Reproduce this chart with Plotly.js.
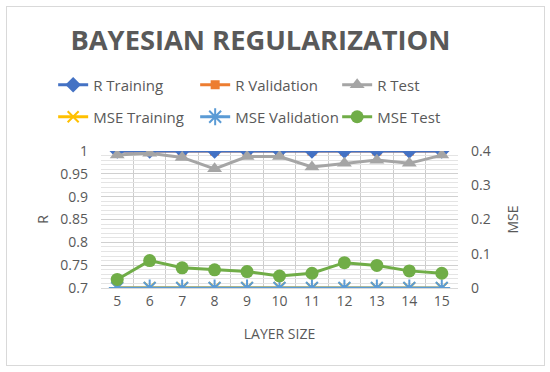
<!DOCTYPE html>
<html>
<head>
<meta charset="utf-8">
<script src="https://cdn.plot.ly/plotly-3.0.1.min.js"></script>
<style>
html,body{margin:0;padding:0;background:#fff;}
#wrap{position:relative;width:550px;height:372px;}
#chart{width:550px;height:372px;}
#frame{position:absolute;left:6px;top:6px;width:537px;height:358px;border:1px solid #d9d9d9;pointer-events:none;}
</style>
</head>
<body>
<div id="wrap"><div id="chart"></div><div id="frame"></div></div>
<script>
const layerSize = [5,6,7,8,9,10,11,12,13,14,15];
const rTraining   = [1,1,1,1,1,1,1,1,1,1,1];
const rValidation = [1,1,1,1,1,1,1,1,1,1,1];
const rTest       = [0.991,0.995,0.986,0.961,0.988,0.988,0.965,0.973,0.980,0.973,0.991];
const mseTraining   = [0.001,0.001,0.001,0.001,0.001,0.001,0,0,0,0,0];
const mseValidation = [0,0,0,0,0,0,0,0,0,0,0];
const mseTest       = [0.025,0.080,0.059,0.053,0.048,0.035,0.043,0.074,0.066,0.050,0.043];

const txt = '#595959';
const fam = 'Open Sans, sans-serif';
const font = {family:fam, size:14, color:txt};

function tr(name, y, color, symbol, size, axis, leg, rank){
  return {x: layerSize, y: y, name: name, type:'scatter', mode:'lines+markers', yaxis: axis, legend: leg, legendrank: rank,
    line:{color:color, width:3}, marker:{symbol:symbol, size:size, color:color, line:{color:color, width: symbol.indexOf('open')>=0?2:0}}};
}
const data = [
  tr('R Validation', rValidation, '#ED7D31', 'square', 9, 'y', 'legend', 2),
  tr('R Training', rTraining, '#4472C4', 'diamond', 12, 'y', 'legend', 1),
  tr('R Test', rTest, '#A5A5A5', 'triangle-up', 13, 'y', 'legend', 3),
  tr('MSE Training', mseTraining, '#FFC000', 'x-thin-open', 11, 'y2', 'legend2', 4),
  tr('MSE Validation', mseValidation, '#5B9BD5', 'asterisk-open', 14, 'y2', 'legend2', 5),
  tr('MSE Test', mseTest, '#70AD47', 'circle', 13, 'y2', 'legend2', 6)
];

const legBase = {orientation:'h', x:-0.134, xanchor:'left', yanchor:'middle', traceorder:'normal',
  entrywidth:97, entrywidthmode:'pixels', font:{family:fam, size:15, color:txt}, bgcolor:'rgba(0,0,0,0)'};

const layout = {
  width:550, height:372,
  margin:{l:101, r:92, t:151, b:84},
  paper_bgcolor:'#fff', plot_bgcolor:'#fff',
  font: font,
  title:{text:'BAYESIAN REGULARIZATION', font:{family:fam, size:27.3, color:txt, weight:'bold'},
    x:260.5/550, xref:'container', xanchor:'center', y:1-40/372, yanchor:'middle', yref:'container'},
  showlegend:true,
  legend: Object.assign({}, legBase, {y:(288-85)/137}),
  legend2: Object.assign({}, legBase, {y:(288-117)/137}),
  xaxis:{type:'linear', range:[4.5,15.5], tickvals:layerSize, showgrid:false,
    minor:{tick0:4.5, dtick:1, showgrid:true, gridcolor:'#cccccc', gridwidth:1, ticks:''},
    ticks:'', showline:true, linecolor:'#d9d9d9', zeroline:false, tickfont:font,
    title:{text:'LAYER SIZE', font:{family:fam, size:14, color:txt}, standoff:20}},
  yaxis:{range:[0.7,1], dtick:0.05, tick0:0.7, showgrid:true, gridcolor:'#d0d0d0', zeroline:false, ticks:'',
    minor:{dtick:0.01, showgrid:true, gridcolor:'#e4e4e4', gridwidth:1},
    ticklabelstandoff:12,
    tickfont:font, title:{text:'R', font:{family:fam, size:14, color:txt}, standoff:8}},
  yaxis2:{range:[0,0.4], dtick:0.1, overlaying:'y', side:'right', showgrid:false, zeroline:false, ticks:'',
    ticklabelstandoff:12,
    tickfont:font, title:{text:'MSE', font:{family:fam, size:14, color:txt}, standoff:18}}
};
Plotly.newPlot('chart', data, layout, {displayModeBar:false, staticPlot:true});
</script>
</body>
</html>
